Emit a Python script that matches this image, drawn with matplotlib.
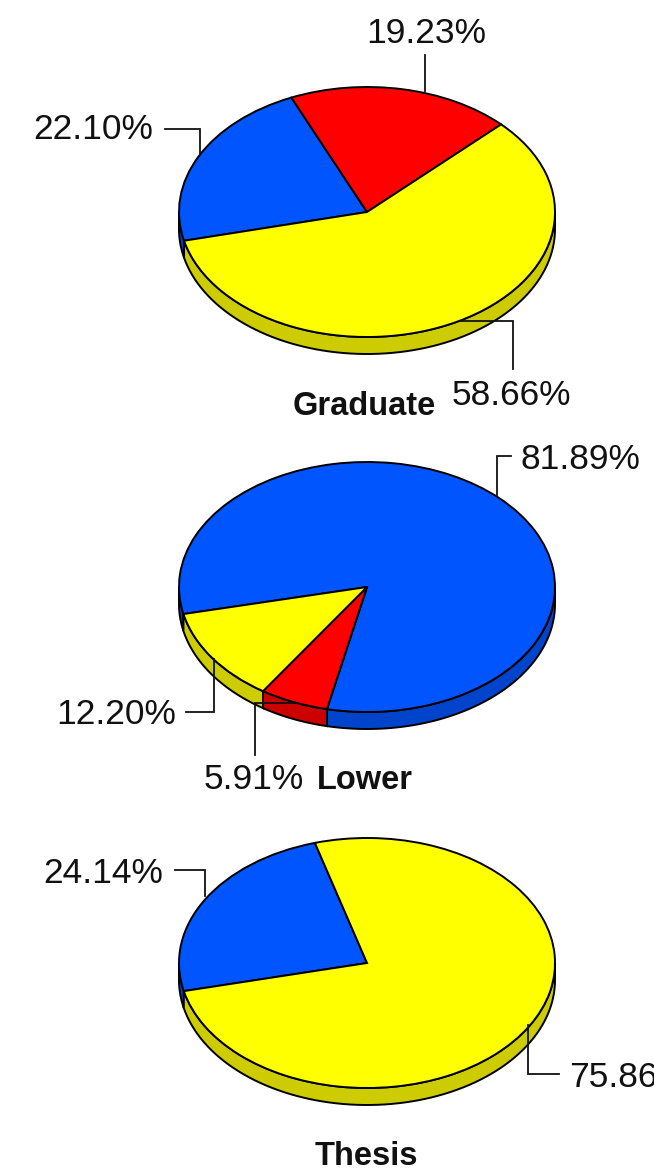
import numpy as np
from matplotlib import pyplot as plt

W, H = 654, 1171

# percentages in drawing order (clockwise from the start angle)
graduate_values = [22.10, 19.23, 58.66]
lower_values = [81.89, 5.91, 12.20]
thesis_values = [24.14, 75.86]

BLUE, RED, YELLOW = "#0055ff", "#ff0000", "#ffff00"
SIDES = {BLUE: "#0044cc", RED: "#cc0000", YELLOW: "#cccc00"}

graduate_colors = [BLUE, RED, YELLOW]
lower_colors = [BLUE, RED, YELLOW]
thesis_colors = [BLUE, YELLOW]

plt.rcParams["font.family"] = ["Liberation Sans", "DejaVu Sans"]
fig = plt.figure(figsize=(W / 100, H / 100), dpi=100)

RX, RY, DEPTH = 188, 125, 17
CX = 367
EDGE = 1.4


def side_wall(ax, a1, a2, color, depth):
    # a1 > a2, clockwise slice; only the part facing down gets a wall
    for lo, hi in ((-180, 0), (180, 360), (-540, -360)):
        start, end = max(a2, lo), min(a1, hi)
        if end <= start:
            continue
        t = np.radians(np.linspace(start, end, 80))
        x = np.cos(t)
        y = np.sin(t)
        ax.fill(np.r_[x, x[::-1]], np.r_[y, y[::-1] - depth],
                facecolor=SIDES[color], edgecolor="black", linewidth=EDGE, zorder=1)


def draw_pie(cy, values, colors, start):
    # pie axes stretched to an ellipse, extra room below for the wall
    pad = 3
    depth = DEPTH / RY
    ax = fig.add_axes([(CX - RX - pad) / W, 1 - (cy + RY + DEPTH + pad) / H,
                       (2 * RX + 2 * pad) / W, (2 * RY + DEPTH + 2 * pad) / H])
    a1 = start
    for v, c in zip(values, colors):
        a2 = a1 - v / sum(values) * 360
        side_wall(ax, a1, a2, c, depth)
        a1 = a2
    wedges, _ = ax.pie(values, colors=colors, startangle=start, counterclock=False,
                       wedgeprops={"edgecolor": "black", "linewidth": EDGE, "zorder": 2})
    ax.set_aspect("auto")
    ax.set_xlim(-1 - pad / RX, 1 + pad / RX)
    ax.set_ylim(-1 - depth - pad / RY, 1 + pad / RY)
    ax.axis("off")


draw_pie(212, graduate_values, graduate_colors, 193.3)
draw_pie(587, lower_values, lower_colors, 192.5)
draw_pie(963, thesis_values, thesis_colors, 193)

# overlay in pixel coordinates for leaders and labels
top = fig.add_axes([0, 0, 1, 1])
top.set_xlim(0, W)
top.set_ylim(H, 0)
top.axis("off")
top.patch.set_alpha(0)

leaders = [
    ([425, 425], [55, 91]),
    ([165, 200, 200], [129, 129, 155]),
    ([460, 513, 513], [321, 321, 369]),
    ([497, 497, 511], [495, 456, 456]),
    ([214, 214, 186], [659, 712, 712]),
    ([297, 255, 255], [703, 703, 755]),
    ([175, 205, 205], [870, 870, 896]),
    ([528, 528, 559], [1025, 1074, 1074]),
]
for xs, ys in leaders:
    top.plot(xs, ys, color="#111111", linewidth=1.3, solid_joinstyle="miter")

pct_labels = [
    ("19.23%", 366, 43), ("22.10%", 33, 139), ("58.66%", 452, 405),
    ("81.89%", 520, 469), ("12.20%", 56, 724), ("5.91%", 204, 789),
    ("24.14%", 43, 883), ("75.86%", 569, 1087),
]
for s, x, y in pct_labels:
    top.text(x, y, s, fontsize=25.5, color="#111111", ha="left", va="baseline", clip_on=False)

name_labels = [("Graduate", 293, 415), ("Lower", 317, 789), ("Thesis", 315, 1165)]
for s, x, y in name_labels:
    top.text(x, y, s, fontsize=23.5, fontweight="bold", color="#111111",
             ha="left", va="baseline")

fig.savefig("out.png", dpi=100)
